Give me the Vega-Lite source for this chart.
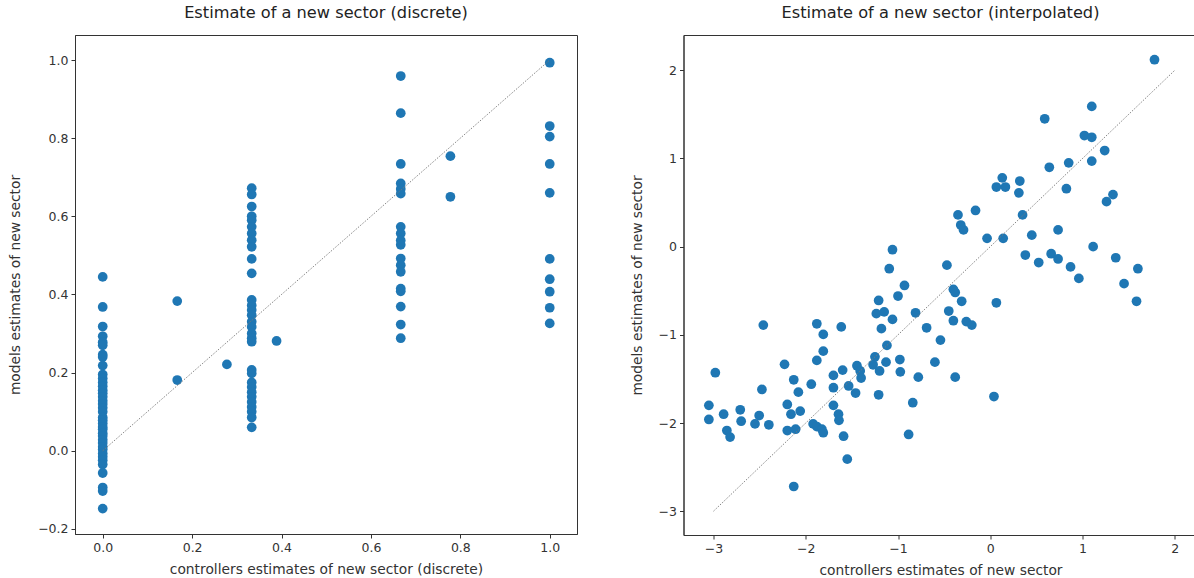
{
  "$schema": "https://vega.github.io/schema/vega-lite/v6.json",
  "padding": {"left": 7, "top": 4, "right": 0, "bottom": 0},
  "bounds": "flush",
  "spacing": 106.5,
  "background": "white",
  "config": {
    "font": "DejaVu Sans",
    "view": {"stroke": "#333", "strokeWidth": 1},
    "axis": {"grid": false, "labelFontSize": 12.5, "titleFontSize": 13.8, "titleFontWeight": "normal", "labelColor": "#333", "titleColor": "#333", "tickColor": "#333", "domainColor": "#333", "tickSize": 4, "labelPadding": 3, "labelFont": "DejaVu Sans", "titleFont": "DejaVu Sans"},
    "title": {"fontSize": 16.2, "fontWeight": "normal", "color": "#222", "font": "DejaVu Sans", "offset": 14}
  },
  "datasets": {
    "left": [
      {"x":0,"y":0.445},{"x":0,"y":0.368},{"x":0,"y":0.318},{"x":0,"y":0.293},{"x":0,"y":0.278},{"x":0,"y":0.27},{"x":0,"y":0.246},{"x":0,"y":0.24},{"x":0,"y":0.218},{"x":0,"y":0.195},{"x":0,"y":0.185},{"x":0,"y":0.175},{"x":0,"y":0.165},{"x":0,"y":0.155},{"x":0,"y":0.147},{"x":0,"y":0.138},{"x":0,"y":0.128},{"x":0,"y":0.12},{"x":0,"y":0.11},{"x":0,"y":0.1},{"x":0,"y":0.085},{"x":0,"y":0.078},{"x":0,"y":0.07},{"x":0,"y":0.061},{"x":0,"y":0.055},{"x":0,"y":0.045},{"x":0,"y":0.038},{"x":0,"y":0.028},{"x":0,"y":0.02},{"x":0,"y":0.01},{"x":0,"y":0.003},{"x":0,"y":-0.007},{"x":0,"y":-0.015},{"x":0,"y":-0.024},{"x":0,"y":-0.035},{"x":0,"y":-0.057},{"x":0,"y":-0.094},{"x":0,"y":-0.103},{"x":0,"y":-0.148},
      {"x":0.3333,"y":0.672},{"x":0.3333,"y":0.656},{"x":0.3333,"y":0.625},{"x":0.3333,"y":0.6},{"x":0.3333,"y":0.59},{"x":0.3333,"y":0.573},{"x":0.3333,"y":0.556},{"x":0.3333,"y":0.539},{"x":0.3333,"y":0.522},{"x":0.3333,"y":0.491},{"x":0.3333,"y":0.454},{"x":0.3333,"y":0.386},{"x":0.3333,"y":0.372},{"x":0.3333,"y":0.36},{"x":0.3333,"y":0.347},{"x":0.3333,"y":0.33},{"x":0.3333,"y":0.317},{"x":0.3333,"y":0.3},{"x":0.3333,"y":0.288},{"x":0.3333,"y":0.279},{"x":0.3333,"y":0.207},{"x":0.3333,"y":0.198},{"x":0.3333,"y":0.175},{"x":0.3333,"y":0.163},{"x":0.3333,"y":0.15},{"x":0.3333,"y":0.138},{"x":0.3333,"y":0.125},{"x":0.3333,"y":0.112},{"x":0.3333,"y":0.1},{"x":0.3333,"y":0.085},{"x":0.3333,"y":0.06},
      {"x":0.6667,"y":0.959},{"x":0.6667,"y":0.864},{"x":0.6667,"y":0.734},{"x":0.6667,"y":0.684},{"x":0.6667,"y":0.67},{"x":0.6667,"y":0.658},{"x":0.6667,"y":0.573},{"x":0.6667,"y":0.556},{"x":0.6667,"y":0.538},{"x":0.6667,"y":0.527},{"x":0.6667,"y":0.492},{"x":0.6667,"y":0.475},{"x":0.6667,"y":0.458},{"x":0.6667,"y":0.415},{"x":0.6667,"y":0.408},{"x":0.6667,"y":0.369},{"x":0.6667,"y":0.323},{"x":0.6667,"y":0.288},
      {"x":1,"y":0.993},{"x":1,"y":0.831},{"x":1,"y":0.804},{"x":1,"y":0.734},{"x":1,"y":0.66},{"x":1,"y":0.491},{"x":1,"y":0.439},{"x":1,"y":0.407},{"x":1,"y":0.366},{"x":1,"y":0.326},
      {"x":0.1667,"y":0.383},{"x":0.1667,"y":0.181},{"x":0.2778,"y":0.221},{"x":0.3889,"y":0.281},{"x":0.7778,"y":0.754},{"x":0.7778,"y":0.65}
    ],
    "right": [
      {"x":1.78,"y":2.12},{"x":1.10,"y":1.59},{"x":0.59,"y":1.45},{"x":1.02,"y":1.26},{"x":1.10,"y":1.24},{"x":1.24,"y":1.09},{"x":0.64,"y":0.90},{"x":0.85,"y":0.95},{"x":1.10,"y":0.97},{"x":0.13,"y":0.78},
      {"x":0.066,"y":0.676},{"x":0.164,"y":0.676},{"x":0.32,"y":0.744},{"x":0.31,"y":0.61},{"x":0.825,"y":0.657},{"x":1.26,"y":0.51},{"x":1.33,"y":0.59},{"x":-0.35,"y":0.36},{"x":-0.16,"y":0.41},{"x":0.35,"y":0.36},
      {"x":-0.32,"y":0.245},{"x":-0.29,"y":0.19},{"x":-0.035,"y":0.094},{"x":0.14,"y":0.094},{"x":0.45,"y":0.13},{"x":0.735,"y":0.19},{"x":1.115,"y":0.0},{"x":-1.06,"y":-0.035},{"x":0.38,"y":-0.095},{"x":0.525,"y":-0.18},
      {"x":0.66,"y":-0.08},{"x":0.735,"y":-0.14},{"x":0.87,"y":-0.23},{"x":0.96,"y":-0.36},{"x":1.36,"y":-0.126},{"x":1.60,"y":-0.25},{"x":1.45,"y":-0.42},{"x":1.585,"y":-0.62},{"x":0.066,"y":-0.637},{"x":-1.095,"y":-0.25},
      {"x":-0.93,"y":-0.44},{"x":-1.0,"y":-0.56},{"x":-1.21,"y":-0.61},{"x":-1.235,"y":-0.76},{"x":-1.15,"y":-0.74},{"x":-1.06,"y":-0.825},{"x":-1.18,"y":-0.93},{"x":-0.81,"y":-0.75},{"x":-0.47,"y":-0.21},{"x":-0.40,"y":-0.485},
      {"x":-0.38,"y":-0.52},{"x":-0.31,"y":-0.62},{"x":-0.45,"y":-0.73},{"x":-0.40,"y":-0.84},{"x":-0.26,"y":-0.85},{"x":-0.20,"y":-0.89},{"x":-0.69,"y":-0.92},{"x":-0.54,"y":-1.06},{"x":-0.60,"y":-1.31},{"x":-0.38,"y":-1.48},
      {"x":0.04,"y":-1.70},{"x":-0.78,"y":-1.48},{"x":-0.84,"y":-1.77},{"x":-1.12,"y":-1.12},{"x":-1.25,"y":-1.25},{"x":-1.27,"y":-1.34},{"x":-1.13,"y":-1.31},{"x":-0.98,"y":-1.28},{"x":-0.975,"y":-1.42},{"x":-1.20,"y":-1.41},
      {"x":-1.21,"y":-1.68},{"x":-1.445,"y":-1.35},{"x":-1.41,"y":-1.41},{"x":-1.40,"y":-1.49},{"x":-1.535,"y":-1.58},{"x":-1.46,"y":-1.66},{"x":-1.60,"y":-1.40},{"x":-1.70,"y":-1.46},{"x":-1.70,"y":-1.60},{"x":-1.88,"y":-0.875},
      {"x":-1.81,"y":-0.995},{"x":-1.615,"y":-0.91},{"x":-1.81,"y":-1.185},{"x":-1.88,"y":-1.29},{"x":-2.23,"y":-1.335},{"x":-2.46,"y":-0.89},{"x":-2.98,"y":-1.43},{"x":-2.13,"y":-1.51},{"x":-1.94,"y":-1.56},{"x":-2.08,"y":-1.65},
      {"x":-2.475,"y":-1.62},{"x":-3.05,"y":-1.80},{"x":-3.05,"y":-1.96},{"x":-2.89,"y":-1.90},{"x":-2.855,"y":-2.085},{"x":-2.82,"y":-2.16},{"x":-2.71,"y":-1.85},{"x":-2.70,"y":-1.98},{"x":-2.55,"y":-2.01},{"x":-2.505,"y":-1.915},
      {"x":-2.40,"y":-2.02},{"x":-2.20,"y":-1.79},{"x":-2.16,"y":-1.90},{"x":-2.20,"y":-2.085},{"x":-2.11,"y":-2.07},{"x":-2.13,"y":-2.72},{"x":-2.06,"y":-1.865},{"x":-1.92,"y":-2.01},{"x":-1.88,"y":-2.04},{"x":-1.825,"y":-2.07},
      {"x":-1.81,"y":-2.11},{"x":-1.70,"y":-1.80},{"x":-1.645,"y":-1.90},{"x":-1.64,"y":-1.97},{"x":-1.59,"y":-2.15},{"x":-1.55,"y":-2.41},{"x":-0.885,"y":-2.13}
    ],
    "leftLine": [{"x":0,"y":0,"x2":1,"y2":1}],
    "rightLine": [{"x":-3,"y":-3,"x2":2,"y2":2}]
  },
  "hconcat": [
    {
      "width": 502,
      "height": 499,
      "title": "Estimate of a new sector (discrete)",
      "layer": [
        {
          "data": {"name": "left"},
          "mark": {"type": "circle", "size": 95, "opacity": 1, "color": "#1f77b4"},
          "encoding": {
            "x": {"field": "x", "type": "quantitative", "scale": {"domain": [-0.062, 1.061], "nice": false, "zero": false},
                  "axis": {"title": "controllers estimates of new sector (discrete)", "values": [0, 0.2, 0.4, 0.6, 0.8, 1.0], "format": ".1f", "titleBaseline": "middle", "titleX": 251, "titleY": 35}},
            "y": {"field": "y", "type": "quantitative", "scale": {"domain": [-0.213, 1.064], "nice": false, "zero": false},
                  "axis": {"title": "models estimates of new sector", "values": [-0.2, 0, 0.2, 0.4, 0.6, 0.8, 1.0], "format": ".1f", "titleBaseline": "middle", "titleX": -60, "titleY": 249.5}}
          }
        },
        {
          "data": {"name": "leftLine"},
          "mark": {"type": "rule", "color": "#777", "strokeWidth": 0.9, "strokeDash": [1.5, 1.5]},
          "encoding": {
            "x": {"field": "x", "type": "quantitative"},
            "y": {"field": "y", "type": "quantitative"},
            "x2": {"field": "x2"},
            "y2": {"field": "y2"}
          }
        }
      ]
    },
    {
      "width": 514,
      "height": 500,
      "title": "Estimate of a new sector (interpolated)",
      "layer": [
        {
          "data": {"name": "right"},
          "mark": {"type": "circle", "size": 95, "opacity": 1, "color": "#1f77b4"},
          "encoding": {
            "x": {"field": "x", "type": "quantitative", "scale": {"domain": [-3.325, 2.246], "nice": false, "zero": false},
                  "axis": {"title": "controllers estimates of new sector", "values": [-3, -2, -1, 0, 1, 2], "format": "d", "titleBaseline": "middle", "titleX": 257, "titleY": 35}},
            "y": {"field": "y", "type": "quantitative", "scale": {"domain": [-3.27, 2.40], "nice": false, "zero": false},
                  "axis": {"title": "models estimates of new sector", "values": [-3, -2, -1, 0, 1, 2], "format": "d", "titleBaseline": "middle", "titleX": -46, "titleY": 250}}
          }
        },
        {
          "data": {"name": "rightLine"},
          "mark": {"type": "rule", "color": "#777", "strokeWidth": 0.9, "strokeDash": [1.5, 1.5]},
          "encoding": {
            "x": {"field": "x", "type": "quantitative"},
            "y": {"field": "y", "type": "quantitative"},
            "x2": {"field": "x2"},
            "y2": {"field": "y2"}
          }
        }
      ]
    }
  ]
}
